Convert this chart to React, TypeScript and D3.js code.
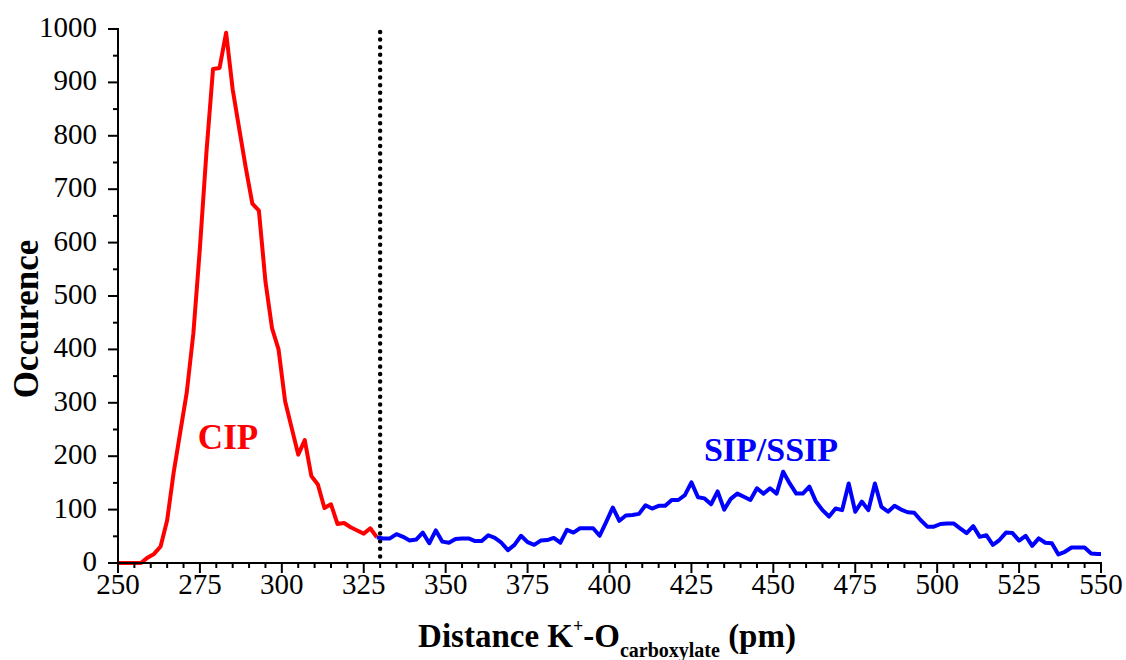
import React from "react";
import * as d3 from "d3";

const cipX = [249,251,253,255,257,259,261,263,265,267,269,271,273,275,277,279,281,283,285,287,289,291,293,295,297,299,301,303,305,307,309,311,313,315,317,319,321,323,325,327,329];
const cipY = [0,0,0,0,0,10,17,31,80,170,245,320,430,590,770,925,927,993,887,813,740,673,660,527,440,400,303,253,203,230,163,147,103,110,73,75,67,61,55,65,48];

const ssipX = [329,331,333,335,337,339,341,343,345,347,349,351,353,355,357,359,361,363,365,367,369,371,373,375,377,379,381,383,385,387,389,391,393,395,397,399,401,403,405,407,409,411,413,415,417,419,421,423,425,427,429,431,433,435,437,439,441,443,445,447,449,451,453,455,457,459,461,463,465,467,469,471,473,475,477,479,481,483,485,487,489,491,493,495,497,499,501,503,505,507,509,511,513,515,517,519,521,523,525,527,529,531,533,535,537,539,541,543,545,547,549,551];
const ssipY = [48,46,46,54,49,42,44,57,37,61,40,38,45,46,46,41,41,52,47,38,24,34,51,39,34,42,43,47,38,62,57,65,65,65,51,77,104,79,89,90,92,108,102,107,107,118,118,127,151,123,121,110,134,100,120,130,124,118,140,130,140,130,171,149,130,130,143,115,99,87,102,99,149,96,115,99,149,105,96,107,100,95,94,80,68,68,73,74,74,65,56,69,49,52,34,43,57,56,42,51,32,46,38,37,16,21,29,29,29,18,17,17];

const xMajor = [250,275,300,325,350,375,400,425,450,475,500,525,550];
const yMajor = [0,100,200,300,400,500,600,700,800,900,1000];
const divider = 330;

const W = 1126, H = 660;
const L = 118, R = 1101, T = 29, B = 563;

export default function App() {
  const x = d3.scaleLinear().domain([250, 550]).range([L, R]);
  const y = d3.scaleLinear().domain([0, 1000]).range([B, T]);
  const mk = (xs: number[], ys: number[]) =>
    d3.line<[number, number]>().x(d => x(d[0])).y(d => y(d[1]))(xs.map((v, i) => [v, ys[i]] as [number, number])) || "";
  const xMinor = d3.range(250, 551, 5).filter(v => v % 25 !== 0);
  const yMinor = d3.range(50, 1000, 100);
  const font = "'Liberation Serif', 'Times New Roman', serif";
  return (
    <svg width={W} height={H} style={{ position: "absolute", left: 0, top: 0, background: "#fff" }}>
      <defs>
        <clipPath id="plot"><rect x={L} y={0} width={R - L} height={B + 2} /></clipPath>
      </defs>
      <line x1={x(divider)} x2={x(divider)} y1={T + 3} y2={B} stroke="#000" strokeWidth={4.5} strokeLinecap="round" strokeDasharray="0 7.6" />
      <g clipPath="url(#plot)">
        <path d={mk(cipX, cipY)} fill="none" stroke="#ff0000" strokeWidth={4} strokeLinejoin="round" />
        <path d={mk(ssipX, ssipY)} fill="none" stroke="#0000ff" strokeWidth={4} strokeLinejoin="round" />
      </g>
      <line x1={L - 1} x2={R + 1} y1={B} y2={B} stroke="#000" strokeWidth={2} />
      <line x1={L} x2={L} y1={T - 1} y2={B} stroke="#000" strokeWidth={2} />
      {xMajor.map(v => (
        <g key={"xm" + v}>
          <line x1={x(v)} x2={x(v)} y1={B} y2={B + 10} stroke="#000" strokeWidth={2} />
          <text x={x(v)} y={B + 31} textAnchor="middle" fontFamily={font} fontSize={29}>{v}</text>
        </g>
      ))}
      {xMinor.map(v => (
        <line key={"xn" + v} x1={x(v)} x2={x(v)} y1={B} y2={B + 5} stroke="#000" strokeWidth={2} />
      ))}
      {yMajor.map(v => (
        <g key={"ym" + v}>
          <line x1={L - 10} x2={L} y1={y(v)} y2={y(v)} stroke="#000" strokeWidth={2} />
          <text x={L - 21} y={y(v) + 8} textAnchor="end" fontFamily={font} fontSize={29}>{v}</text>
        </g>
      ))}
      {yMinor.map(v => (
        <line key={"yn" + v} x1={L - 5} x2={L} y1={y(v)} y2={y(v)} stroke="#000" strokeWidth={2} />
      ))}
      <text transform={`translate(38, 319) rotate(-90)`} textAnchor="middle" fontFamily={font} fontSize={35} fontWeight="bold">Occurence</text>
      <text x={607} y={647} textAnchor="middle" fontFamily={font} fontSize={33} fontWeight="bold">
        Distance K<tspan fontSize={18} dy={-15}>+</tspan><tspan dy={15}>-O</tspan><tspan fontSize={20} dy={10}>carboxylate</tspan><tspan dy={-10}> (pm)</tspan>
      </text>
      <text x={228} y={449} textAnchor="middle" fontFamily={font} fontSize={35} fontWeight="bold" fill="#ff0000">CIP</text>
      <text x={771} y={461} textAnchor="middle" fontFamily={font} fontSize={34} fontWeight="bold" fill="#0000ff">SIP/SSIP</text>
    </svg>
  );
}
